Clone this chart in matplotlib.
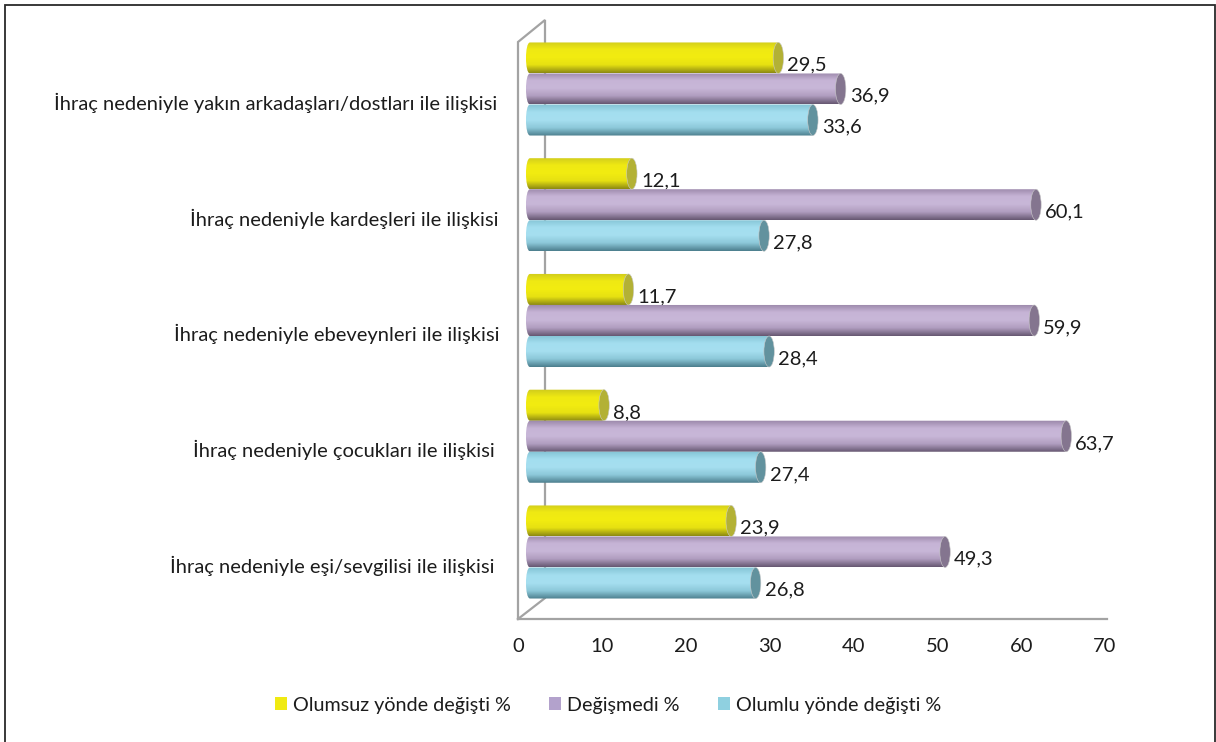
import numpy as np
import matplotlib
matplotlib.use("Agg")
import matplotlib.pyplot as plt
from matplotlib.colors import LinearSegmentedColormap
from matplotlib.patches import Ellipse, Patch, PathPatch, Rectangle
from matplotlib.path import Path

plt.rcParams["font.family"] = ["Lato", "DejaVu Sans"]

W, H = 1216, 742
categories = ["İhraç nedeniyle eşi/sevgilisi ile ilişkisi",
              "İhraç nedeniyle çocukları ile ilişkisi",
              "İhraç nedeniyle ebeveynleri ile ilişkisi",
              "İhraç nedeniyle kardeşleri ile ilişkisi",
              "İhraç nedeniyle yakın arkadaşları/dostları ile ilişkisi"]
olumsuz = [23.9, 8.8, 11.7, 12.1, 29.5]
degismedi = [49.3, 63.7, 59.9, 60.1, 36.9]
olumlu = [26.8, 27.4, 28.4, 27.8, 33.6]
x_ticks = [0, 10, 20, 30, 40, 50, 60, 70]
series_names = ["Olumsuz yönde değişti %", "Değişmedi %", "Olumlu yönde değişti %"]

# top to bottom inside a group: values, gradient stops, end cap colour, offset of bar centre
STYLES = [
    (olumsuz, ["#cfcb1c", "#efe913", "#f2ec10", "#e6e012", "#8d8a12"], "#b3b135", -0.268),
    (degismedi, ["#9a86a8", "#c6b4d6", "#c8b7d8", "#b09dbf", "#675872"], "#84758f", 0.0),
    (olumlu, ["#84c3d4", "#a3deef", "#a6dff0", "#8cc8d9", "#4c7f8e"], "#62929e", 0.268),
]
BAR_H = 0.268
DEPTH = 1.43      # bars start this far in from the front corner
STRETCH = 1.004   # back plane is drawn a bit wider than the tick scale
CAP = 0.62        # half width of the end ellipse, x units
FS = 14.5
GRAY = "#a3a3a3"
TXT = "#1c1c1c"

fig = plt.figure(figsize=(W / 100, H / 100), dpi=100)
# page frame, its bottom edge is cut off by the image
fig.add_artist(Rectangle((5 / W, -0.02), 1210 / W, 1.02 - 5 / H, transform=fig.transFigure,
                         fill=False, ec="#2a2a2a", lw=1.3))
ax = fig.add_axes([518 / W, 1 - 619 / H, (1105 - 518) / W, (619 - 20) / H])
ax.patch.set_visible(False)
for s in ax.spines.values():
    s.set_visible(False)
y = np.arange(len(categories))
y0, y1 = -0.579, 4.596


def cylinder(val, yc, stops, cap_col):
    end = DEPTH + val * STRETCH
    top, bot = yc + BAR_H / 2, yc - BAR_H / 2
    cmap = LinearSegmentedColormap.from_list("c", stops)
    im = ax.imshow(np.linspace(0, 1, 64)[:, None], cmap=cmap, aspect="auto", zorder=4,
                   extent=(DEPTH - 2 * CAP, end + CAP, bot, top), origin="upper")
    verts = [(DEPTH, bot), (end, bot), (end, top), (DEPTH, top),
             (DEPTH - 0.64, top), (DEPTH - 0.64, bot), (DEPTH, bot)]
    codes = [Path.MOVETO, Path.LINETO, Path.LINETO, Path.LINETO,
             Path.CURVE4, Path.CURVE4, Path.CURVE4]
    body = PathPatch(Path(verts, codes), fc="none", ec="none", transform=ax.transData)
    ax.add_patch(body)
    im.set_clip_path(body)
    ax.add_patch(Ellipse((end, yc), CAP * 2, BAR_H, fc=cap_col, ec="#c9c9c9", lw=0.4, zorder=5))
    return end


for vals, stops, cap_col, off in STYLES:
    for yi, v in zip(y, vals):
        end = cylinder(v, yi - off, stops, cap_col)
        ax.annotate(f"{v:.1f}".replace(".", ","), (end, yi - off - 0.062), xytext=(9, 0),
                    textcoords="offset pixels", va="center", ha="left",
                    fontsize=FS, color=TXT, zorder=3)

# box of the 3D plot
back = 3.22
ax.plot([0, 0, back, back, 0], [y0, 4.406, y1, -0.398, y0], color=GRAY, lw=1.6,
        clip_on=False, zorder=1, solid_joinstyle="miter")
ax.plot([0, 70.2], [y0, y0], color=GRAY, lw=1.6, clip_on=False, zorder=1)

label_nudge = [-24, -23, -19, -19, -21]
for yi, name, nudge in zip(y, categories, label_nudge):
    ax.annotate(name, (0, yi - 0.12), xytext=(nudge, 0), textcoords="offset pixels",
                ha="right", va="center", fontsize=FS, color=TXT)

ax.set_xlim(0, 70)
ax.set_ylim(y0, y1)
ax.set_yticks([])
ax.set_xticks(x_ticks)
ax.tick_params(axis="x", length=0, pad=14, labelsize=FS, labelcolor=TXT)

handles = [Patch(fc=c, ec="none") for c in ["#f0ea12", "#b3a2cc", "#8fd0e0"]]
fig.legend(handles, series_names, loc="center", bbox_to_anchor=(608 / W, 1 - 705 / H), ncol=3,
           frameon=False, fontsize=14.2, handlelength=0.6, handleheight=0.65,
           handletextpad=0.3, columnspacing=1.95, labelcolor=TXT)

fig.savefig("out.png", dpi=100)
